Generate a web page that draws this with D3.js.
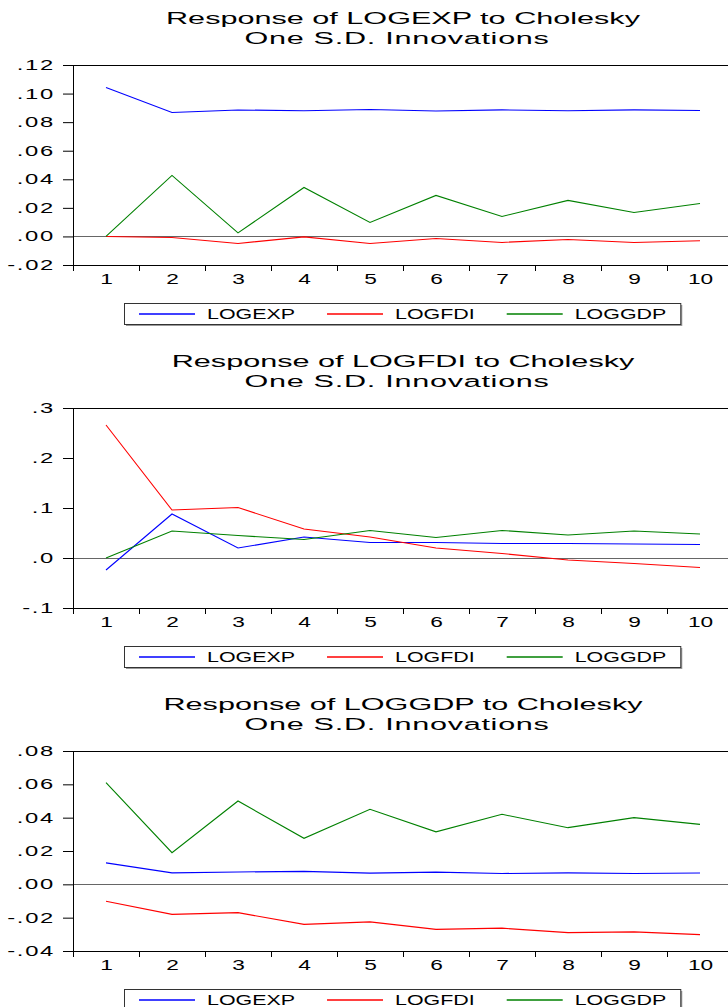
<!DOCTYPE html>
<html>
<head>
<meta charset="utf-8">
<script src="https://cdn.jsdelivr.net/npm/d3@7"></script>
<style>
body { margin: 0; background: #fff; }
svg { display: block; font-family: "Liberation Sans", Arial, sans-serif; }
</style>
</head>
<body>
<svg id="irf" width="728" height="1007"></svg>
<script>
// periods after the shock
let periods = [1, 2, 3, 4, 5, 6, 7, 8, 9, 10];
let seriesNames = ["LOGEXP", "LOGFDI", "LOGGDP"];
let seriesColors = ["#0000ff", "#ff0000", "#008000"];

let titles = [
    ["Response of LOGEXP to Cholesky", "One S.D. Innovations"],
    ["Response of LOGFDI to Cholesky", "One S.D. Innovations"],
    ["Response of LOGGDP to Cholesky", "One S.D. Innovations"]
];

// Response of LOGEXP
let expToExp = [0.1043, 0.0868, 0.0885, 0.0880, 0.0888, 0.0878, 0.0886, 0.0880, 0.0886, 0.0882];
let expToFdi = [0.0, -0.0007, -0.0049, -0.0003, -0.0050, -0.0014, -0.0042, -0.0021, -0.0042, -0.0030];
let expToGdp = [0.0, 0.0427, 0.0025, 0.0343, 0.0098, 0.0287, 0.0140, 0.0252, 0.0168, 0.0231];

// Response of LOGFDI
let fdiToExp = [-0.024, 0.088, 0.020, 0.042, 0.031, 0.031, 0.029, 0.029, 0.028, 0.027];
let fdiToFdi = [0.266, 0.096, 0.101, 0.058, 0.042, 0.020, 0.009, -0.004, -0.011, -0.019];
let fdiToGdp = [0.0, 0.054, 0.045, 0.037, 0.055, 0.041, 0.055, 0.046, 0.054, 0.048];

// Response of LOGGDP
let gdpToExp = [0.0129, 0.0069, 0.0074, 0.0078, 0.0067, 0.0073, 0.0065, 0.0069, 0.0065, 0.0068];
let gdpToFdi = [-0.0102, -0.0180, -0.0170, -0.0240, -0.0225, -0.0270, -0.0263, -0.0290, -0.0285, -0.0302];
let gdpToGdp = [0.061, 0.019, 0.050, 0.0276, 0.045, 0.0315, 0.042, 0.034, 0.040, 0.036];

let yTicksExp = [-0.02, 0.0, 0.02, 0.04, 0.06, 0.08, 0.10, 0.12];
let yTicksFdi = [-0.1, 0.0, 0.1, 0.2, 0.3];
let yTicksGdp = [-0.04, -0.02, 0.0, 0.02, 0.04, 0.06, 0.08];

let svg = d3.select("#irf");

let plotLeft = 73, plotWidth = 660, plotHeight = 200;
let panelStep = 343, firstTop = 65;

// EViews-style labels: no leading zero
function evFormat(digits) {
    let f = d3.format("." + digits + "f");
    return function (v) { return f(v).replace("0.", ".").replace("−", "-"); };
}

function drawPanel(index, title, series, yTicks, digits) {
    let top = firstTop + index * panelStep;
    let g = svg.append("g").attr("transform", "translate(0," + top + ")");

    let x = d3.scaleLinear().domain([0.5, 10.5]).range([plotLeft, plotLeft + plotWidth]);
    let y = d3.scaleLinear().domain([yTicks[0], yTicks[yTicks.length - 1]]).range([plotHeight, 0]);

    // title, two lines
    title.forEach(function (t, i) {
        g.append("text")
            .attr("transform", "translate(" + (plotLeft + plotWidth / 2 - (i ? 6 : 0)) + "," + (-41 + i * 20) + ") scale(1.8,1)")
            .attr("text-anchor", "middle")
            .attr("font-size", "17px")
            .attr("letter-spacing", i === 1 ? "0.4px" : null)
            .attr("fill", "#000")
            .text(t);
    });

    // zero line
    g.append("line")
        .attr("x1", plotLeft).attr("x2", plotLeft + plotWidth)
        .attr("y1", Math.round(y(0)) + 0.5).attr("y2", Math.round(y(0)) + 0.5)
        .attr("stroke", "#666")
        .attr("stroke-width", 1);

    // y axis
    let yAxis = g.append("g")
        .attr("transform", "translate(" + plotLeft + ",0)")
        .call(d3.axisLeft(y).tickValues(yTicks).tickSize(10).tickFormat(evFormat(digits)));
    yAxis.select(".domain").remove();
    yAxis.selectAll("line").attr("stroke", "#000");
    yAxis.selectAll("text")
        .attr("x", null)
        .attr("transform", "translate(-18,0) scale(1.7,1)")
        .attr("font-size", "14px")
        .attr("letter-spacing", "1px")
        .attr("font-family", null)
        .attr("fill", "#000");

    // x axis: labels at periods, ticks between them
    let xLabels = g.append("g")
        .attr("transform", "translate(0," + plotHeight + ")")
        .call(d3.axisBottom(x).tickValues(periods).tickSize(0).tickFormat(d3.format("d")));
    xLabels.select(".domain").remove();
    xLabels.selectAll("text")
        .attr("y", null).attr("dy", null)
        .attr("transform", "translate(0,19) scale(1.62,1)")
        .attr("font-size", "14px")
        .attr("font-family", null)
        .attr("fill", "#000");

    let xTicks = g.append("g")
        .attr("transform", "translate(0," + plotHeight + ")")
        .call(d3.axisBottom(x).tickValues(d3.range(0.5, 11, 1)).tickSize(6).tickFormat(""));
    xTicks.select(".domain").remove();
    xTicks.selectAll("line").attr("stroke", "#000");

    // frame
    g.append("rect")
        .attr("x", plotLeft + 0.5).attr("y", 0.5)
        .attr("width", plotWidth).attr("height", plotHeight)
        .attr("fill", "none")
        .attr("stroke", "#000");

    // response lines
    let line = d3.line()
        .x(function (d, i) { return x(periods[i]); })
        .y(function (d) { return y(d); });

    series.forEach(function (s, i) {
        g.append("path")
            .datum(s)
            .attr("fill", "none")
            .attr("stroke", seriesColors[i])
            .attr("stroke-width", 1.1)
            .attr("d", line);
    });

    // legend
    let lgTop = plotHeight + 38, lgLeft = 124, lgH = 21;
    let lg = g.append("g").attr("transform", "translate(0," + lgTop + ")");
    lg.append("rect")
        .attr("class", "shadow")
        .attr("x", lgLeft + 2).attr("y", 2)
        .attr("height", lgH)
        .attr("fill", "#999");
    let box = lg.append("rect")
        .attr("x", lgLeft + 0.5).attr("y", 0.5)
        .attr("height", lgH)
        .attr("fill", "#fff")
        .attr("stroke", "#333");
    let cursor = lgLeft + 15;
    seriesNames.forEach(function (name, i) {
        lg.append("line")
            .attr("x1", cursor).attr("x2", cursor + 56)
            .attr("y1", 11).attr("y2", 11)
            .attr("stroke", seriesColors[i])
            .attr("stroke-width", 1.3);
        let t = lg.append("text")
            .attr("transform", "translate(" + (cursor + 68) + ",16) scale(1.53,1)")
            .attr("font-size", "14px")
            .attr("fill", "#000")
            .text(name);
        cursor += 68 + t.node().getComputedTextLength() * 1.53 + 32;
    });
    let lgWidth = cursor - 32 + 14 - lgLeft;
    lg.select(".shadow").attr("width", lgWidth);
    box.attr("width", lgWidth);
}

drawPanel(0, titles[0], [expToExp, expToFdi, expToGdp], yTicksExp, 2);
drawPanel(1, titles[1], [fdiToExp, fdiToFdi, fdiToGdp], yTicksFdi, 1);
drawPanel(2, titles[2], [gdpToExp, gdpToFdi, gdpToGdp], yTicksGdp, 2);
</script>
</body>
</html>
